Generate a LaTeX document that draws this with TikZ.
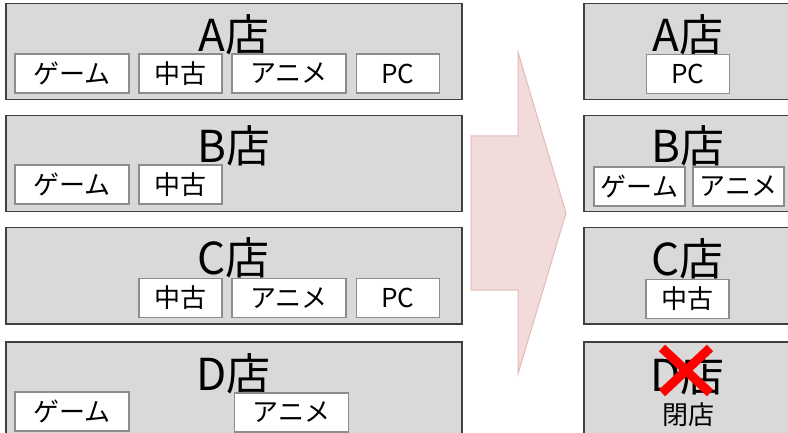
\documentclass[tikz,border=0pt]{standalone}
\usepackage{fontspec}
\setmainfont{Noto Sans CJK JP}
\definecolor{storefill}{HTML}{D9D9D9}
\definecolor{storeline}{HTML}{404040}
\definecolor{itemline}{HTML}{8C8C8C}
\definecolor{arrowfill}{HTML}{F2DCDB}
\definecolor{arrowline}{HTML}{E6B9B8}
\begin{document}
\begin{tikzpicture}[x=1pt,y=-1pt,
      store/.style={draw=storeline, fill=storefill, line width=1.5pt,
        minimum width=456pt, minimum height=96pt, inner sep=0pt, anchor=north west},
      title/.style={anchor=base, font=\fontsize{44}{44}\selectfont, inner sep=0pt},
      item/.style={draw=itemline, fill=white, line width=1.2pt, minimum height=39pt,
        inner sep=0pt, font=\fontsize{26}{26}\selectfont},
      wide/.style={item, minimum width=114pt},
      narrow/.style={item, minimum width=83pt}]
      \useasboundingbox (0,0) rectangle (788,433);
      % before
      \node[store] (lA) at (5,3) {};
      \node[store] (lB) at (5,115) {};
      \node[store] (lC) at (5,227) {};
      \node[store] (lD) at (5,341) {};
      \node[title] (lAt) at ([yshift=-49pt]lA.north) {A店};
      \node[title] (lBt) at ([yshift=-48pt]lB.north) {B店};
      \node[title] (lCt) at ([yshift=-47pt]lC.north) {C店};
      \node[title] (lDt) at ([yshift=-49pt]lD.north) {D店};
      \node[wide] (lAg) at (72,73.5) {ゲーム};
      \node[narrow] (lAc) at (180.5,73.5) {中古};
      \node[wide] (lAa) at (289,73.5) {アニメ};
      \node[narrow] (lAp) at (398,73.5) {PC};
      \node[wide] (lBg) at (72,184.5) {ゲーム};
      \node[narrow] (lBc) at (180.5,184.5) {中古};
      \node[narrow] (lCc) at (180.5,298) {中古};
      \node[wide] (lCa) at (289,298) {アニメ};
      \node[narrow] (lCp) at (398,298) {PC};
      \node[wide] (lDg) at (72,411.5) {ゲーム};
      \node[wide] (lDa) at (291.5,412.5) {アニメ};
      % arrow
      \draw[arrowline, fill=arrowfill, line width=1pt]
        (471,136) -- (518,136) -- (518,52) -- (566,213) -- (518,374)
        -- (518,290) -- (471,290) -- cycle;
      % after
      \node[store, minimum width=208pt] (rA) at (583,3) {};
      \node[store, minimum width=208pt] (rB) at (583,115) {};
      \node[store, minimum width=208pt] (rC) at (583,227) {};
      \node[store, minimum width=208pt] (rD) at (583,341) {};
      \node[title] (rAt) at ([yshift=-49pt]rA.north) {A店};
      \node[title] (rBt) at ([yshift=-48pt]rB.north) {B店};
      \node[title] (rCt) at ([yshift=-48pt]rC.north) {C店};
      \node[title] (rDt) at ([yshift=-50pt]rD.north) {D店};
      \node[narrow] (rAp) at (688,74) {PC};
      \node[item, minimum width=91pt] (rBg) at (639.5,186.5) {ゲーム};
      \node[item, minimum width=91pt] (rBa) at (738.5,186.5) {アニメ};
      \node[narrow] (rCc) at (687.5,299) {中古};
      \node[font=\fontsize{26}{26}\selectfont, inner sep=0pt] (rDx) at (688,415) {閉店};
      \draw[red, line width=9pt] (662,348) -- (710,393);
      \draw[red, line width=9pt] (710,348) -- (662,393);
\end{tikzpicture}
\end{document}
